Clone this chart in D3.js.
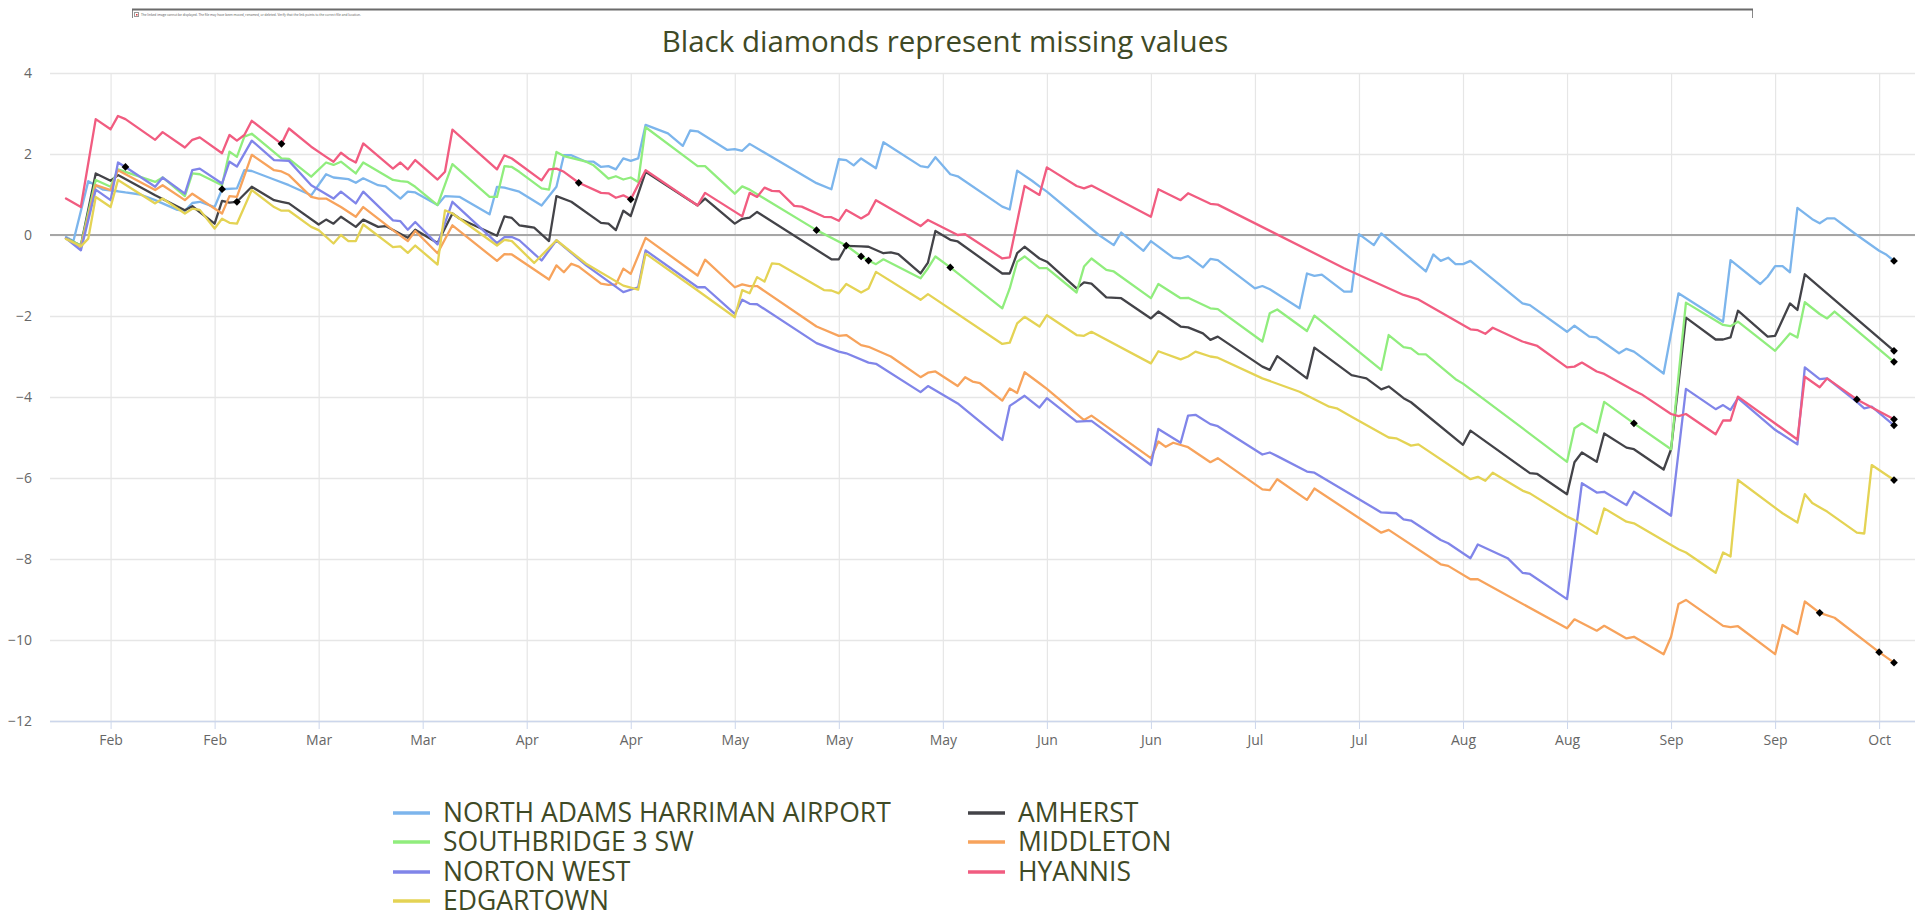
<!DOCTYPE html>
<html>
<head>
<meta charset="utf-8">
<script src="https://cdnjs.cloudflare.com/ajax/libs/d3/7.8.5/d3.min.js"></script>
<style>
  body { margin: 0; background: #fff; }
  svg { display: block; }
  text { font-family: "Open Sans", sans-serif; }
</style>
</head>
<body>
<div id="chart"></div>
<script>
// days are counted from Feb 1; each point is [day, departure in inches]
const firstDay = Date.UTC(2021, 1, 1);
const lastDay = Date.UTC(2021, 9, 5);
const tickDates = ["2021-02-07", "2021-02-21", "2021-03-07", "2021-03-21", "2021-04-04", "2021-04-18",
    "2021-05-02", "2021-05-16", "2021-05-30", "2021-06-13", "2021-06-27", "2021-07-11", "2021-07-25",
    "2021-08-08", "2021-08-22", "2021-09-05", "2021-09-19", "2021-10-03"];
const yTicks = [-12, -10, -8, -6, -4, -2, 0, 2, 4];

const stationNames = ["NORTH ADAMS HARRIMAN AIRPORT", "AMHERST", "SOUTHBRIDGE 3 SW", "MIDDLETON",
    "NORTON WEST", "HYANNIS", "EDGARTOWN"];
const stationColors = ["#7cb5ec", "#434348", "#90ed7d", "#f7a35c", "#8085e9", "#f15c80", "#e4d354"];

const northAdams = [[0,-0.05],[1,-0.15],[3,1.33],[5,1.12],[7,1.08],[8,1.05],[10,1.0],[12,0.86],[15,0.62],[16,0.6],[17,0.79],[18,0.82],[20,0.69],[21,1.13],[23,1.15],[24,1.6],[25,1.58],[28,1.37],[30,1.23],[33,0.98],[35,1.5],[36,1.42],[38,1.38],[39,1.29],[40,1.4],[42,1.23],[43,1.2],[45,0.9],[46,1.07],[47,1.05],[50,0.74],[51,0.96],[53,0.94],[57,0.51],[58,1.19],[59,1.17],[60,1.12],[61,1.07],[64,0.73],[66,1.19],[67,1.97],[68,1.97],[70,1.81],[71,1.81],[72,1.68],[73,1.7],[74,1.62],[75,1.89],[76,1.83],[77,1.89],[78,2.72],[81,2.51],[83,2.2],[84,2.58],[85,2.56],[89,2.1],[90,2.12],[91,2.08],[92,2.25],[101,1.28],[103,1.13],[104,1.87],[105,1.85],[106,1.72],[107,1.89],[109,1.65],[110,2.29],[115,1.7],[116,1.67],[117,1.92],[119,1.5],[120,1.45],[126,0.7],[127,0.63],[128,1.59],[130,1.34],[131,1.2],[132,1.07],[139,0],[141,-0.25],[142,0.06],[145,-0.39],[146,-0.15],[149,-0.56],[150,-0.58],[151,-0.52],[153,-0.8],[154,-0.59],[155,-0.62],[160,-1.32],[161,-1.26],[162,-1.34],[166,-1.81],[167,-0.95],[168,-1.01],[169,-0.98],[172,-1.4],[173,-1.4],[174,0.02],[176,-0.25],[177,0.04],[183,-0.9],[184,-0.48],[185,-0.64],[186,-0.56],[187,-0.72],[188,-0.72],[189,-0.64],[196,-1.69],[197,-1.73],[202,-2.39],[203,-2.24],[205,-2.51],[206,-2.53],[209,-2.92],[210,-2.81],[211,-2.88],[215,-3.42],[217,-1.44],[223,-2.14],[224,-0.62],[228,-1.21],[229,-1.03],[230,-0.77],[231,-0.77],[232,-0.92],[233,0.67],[235,0.39],[236,0.29],[237,0.41],[238,0.41],[241,0.0],[244,-0.39],[245,-0.49],[246,-0.64]];

const amherst = [[0,-0.08],[2,-0.26],[4,1.52],[6,1.34],[7,1.48],[12,0.98],[16,0.61],[17,0.71],[20,0.28],[21,0.84],[22,0.8],[23,0.82],[25,1.19],[28,0.86],[29,0.82],[30,0.78],[34,0.26],[35,0.38],[36,0.28],[37,0.45],[39,0.2],[40,0.38],[42,0.2],[43,0.22],[46,-0.07],[47,0.13],[50,-0.2],[52,0.53],[53,0.4],[58,-0.02],[59,0.46],[60,0.42],[61,0.24],[62,0.21],[63,0.18],[65,-0.15],[66,0.96],[68,0.82],[72,0.3],[73,0.28],[74,0.12],[75,0.6],[76,0.47],[78,1.56],[85,0.73],[86,0.9],[90,0.28],[91,0.4],[92,0.43],[93,0.57],[103,-0.6],[104,-0.6],[105,-0.27],[107,-0.28],[108,-0.29],[110,-0.45],[111,-0.43],[112,-0.47],[115,-0.95],[116,-0.68],[117,0.1],[119,-0.12],[120,-0.16],[126,-0.95],[127,-0.95],[128,-0.45],[129,-0.29],[131,-0.58],[132,-0.66],[136,-1.32],[137,-1.17],[138,-1.2],[140,-1.54],[142,-1.56],[146,-2.06],[147,-1.89],[150,-2.26],[151,-2.28],[153,-2.43],[154,-2.59],[155,-2.51],[161,-3.25],[162,-3.33],[163,-2.99],[167,-3.54],[168,-2.78],[173,-3.46],[174,-3.5],[175,-3.54],[177,-3.81],[178,-3.74],[180,-4.03],[181,-4.13],[188,-5.18],[189,-4.83],[197,-5.88],[198,-5.9],[202,-6.4],[203,-5.61],[204,-5.37],[206,-5.6],[207,-4.9],[210,-5.25],[211,-5.29],[215,-5.79],[216,-5.29],[218,-2.04],[222,-2.58],[223,-2.58],[224,-2.53],[225,-1.87],[229,-2.51],[230,-2.49],[232,-1.69],[233,-1.85],[234,-0.97],[238,-1.6],[246,-2.86]];

const southbridge = [[0,-0.08],[2,-0.26],[4,1.36],[6,1.19],[7,1.62],[12,1.31],[13,1.42],[16,0.96],[17,1.52],[18,1.5],[21,1.23],[22,2.06],[23,1.93],[24,2.43],[25,2.5],[29,1.89],[30,1.88],[33,1.44],[35,1.79],[36,1.73],[37,1.81],[39,1.52],[40,1.79],[44,1.36],[45,1.33],[46,1.31],[47,1.19],[50,0.74],[52,1.75],[57,0.94],[58,0.94],[59,1.7],[60,1.68],[61,1.56],[64,1.15],[65,1.12],[66,2.05],[67,1.95],[70,1.81],[71,1.72],[72,1.56],[73,1.39],[74,1.45],[75,1.37],[76,1.42],[77,1.31],[78,2.66],[85,1.7],[86,1.7],[90,1.02],[91,1.2],[92,1.12],[101,0.12],[105,-0.26],[107,-0.53],[108,-0.63],[109,-0.72],[110,-0.6],[115,-1.07],[116,-0.82],[117,-0.53],[119,-0.8],[126,-1.81],[127,-1.32],[128,-0.66],[129,-0.53],[131,-0.82],[132,-0.82],[136,-1.42],[137,-0.78],[138,-0.58],[140,-0.86],[141,-0.9],[146,-1.56],[147,-1.21],[150,-1.56],[151,-1.55],[154,-1.81],[155,-1.83],[161,-2.63],[162,-1.93],[163,-1.84],[167,-2.37],[168,-1.99],[177,-3.33],[178,-2.47],[180,-2.77],[181,-2.8],[182,-2.94],[183,-2.95],[187,-3.56],[188,-3.67],[196,-4.77],[202,-5.6],[203,-4.77],[204,-4.65],[206,-4.88],[207,-4.12],[211,-4.65],[216,-5.29],[218,-1.67],[223,-2.22],[224,-2.25],[225,-2.14],[230,-2.86],[232,-2.43],[233,-2.53],[234,-1.66],[236,-1.95],[237,-2.06],[238,-1.89],[246,-3.13]];

const middleton = [[0,-0.08],[2,-0.3],[4,1.23],[6,1.11],[7,1.6],[12,1.11],[13,1.23],[16,0.86],[17,1.02],[21,0.53],[22,0.96],[23,0.94],[25,1.98],[28,1.6],[29,1.57],[30,1.48],[33,0.94],[34,0.9],[35,0.9],[37,0.69],[39,0.45],[40,0.69],[44,0.12],[46,-0.15],[47,0.1],[50,-0.45],[52,0.24],[58,-0.64],[59,-0.47],[60,-0.48],[65,-1.1],[66,-0.75],[67,-0.92],[68,-0.71],[69,-0.78],[72,-1.2],[73,-1.23],[74,-1.22],[75,-0.83],[76,-0.96],[78,-0.07],[85,-1.0],[86,-0.61],[90,-1.29],[91,-1.22],[92,-1.26],[93,-1.26],[101,-2.26],[104,-2.49],[105,-2.47],[107,-2.72],[108,-2.76],[109,-2.84],[111,-3.0],[115,-3.51],[116,-3.4],[117,-3.37],[120,-3.73],[121,-3.51],[122,-3.62],[123,-3.66],[126,-4.09],[127,-3.79],[128,-3.9],[129,-3.39],[131,-3.66],[132,-3.8],[137,-4.57],[138,-4.46],[146,-5.51],[147,-5.1],[148,-5.23],[149,-5.13],[151,-5.24],[154,-5.61],[155,-5.51],[161,-6.28],[162,-6.3],[163,-6.03],[167,-6.54],[168,-6.26],[177,-7.35],[178,-7.28],[185,-8.13],[186,-8.17],[189,-8.5],[190,-8.5],[202,-9.71],[203,-9.49],[206,-9.77],[207,-9.65],[210,-9.96],[211,-9.92],[215,-10.35],[216,-9.92],[217,-9.11],[218,-9.01],[223,-9.65],[224,-9.68],[225,-9.66],[230,-10.35],[231,-9.63],[233,-9.85],[234,-9.05],[236,-9.33],[238,-9.45],[244,-10.3],[246,-10.56]];

const nortonWest = [[0,-0.08],[2,-0.38],[4,1.12],[6,0.86],[7,1.79],[8,1.68],[12,1.19],[13,1.42],[16,1.02],[17,1.6],[18,1.64],[21,1.27],[22,1.81],[23,1.69],[25,2.33],[28,1.85],[30,1.83],[33,1.23],[36,0.9],[37,1.07],[39,0.78],[40,1.07],[44,0.36],[45,0.34],[46,0.13],[47,0.32],[50,-0.23],[52,0.82],[58,-0.2],[59,-0.05],[60,-0.05],[61,-0.13],[64,-0.63],[66,-0.13],[70,-0.75],[75,-1.41],[77,-1.29],[78,-0.38],[85,-1.29],[86,-1.29],[90,-1.95],[91,-1.6],[92,-1.7],[93,-1.71],[101,-2.67],[104,-2.88],[105,-2.92],[108,-3.15],[109,-3.18],[115,-3.88],[116,-3.73],[120,-4.16],[123,-4.61],[126,-5.06],[127,-4.22],[129,-3.97],[131,-4.26],[132,-4.03],[136,-4.61],[138,-4.59],[146,-5.68],[147,-4.79],[150,-5.13],[151,-4.46],[152,-4.44],[154,-4.67],[155,-4.72],[161,-5.42],[162,-5.37],[163,-5.46],[167,-5.84],[168,-5.87],[177,-6.85],[179,-6.87],[180,-7.02],[181,-7.05],[185,-7.53],[186,-7.61],[189,-7.98],[190,-7.64],[194,-7.98],[196,-8.34],[197,-8.37],[202,-8.99],[204,-6.13],[206,-6.36],[207,-6.34],[210,-6.67],[211,-6.34],[216,-6.93],[218,-3.8],[222,-4.3],[223,-4.2],[224,-4.32],[225,-4.03],[230,-4.81],[233,-5.17],[234,-3.27],[236,-3.56],[237,-3.54],[241,-4.12],[242,-4.28],[243,-4.24],[246,-4.7]];

const hyannis = [[0,0.9],[2,0.69],[4,2.86],[6,2.61],[7,2.94],[8,2.86],[12,2.35],[13,2.54],[16,2.16],[17,2.35],[18,2.41],[21,2.02],[22,2.47],[23,2.33],[24,2.47],[25,2.82],[29,2.25],[30,2.63],[33,2.18],[35,1.93],[36,1.81],[37,2.03],[38,1.89],[39,1.79],[40,2.26],[44,1.64],[45,1.79],[46,1.62],[47,1.85],[50,1.37],[51,1.56],[52,2.6],[58,1.62],[59,1.97],[60,1.89],[64,1.35],[65,1.62],[66,1.64],[67,1.56],[69,1.29],[72,1.04],[73,1.03],[74,0.92],[75,0.98],[76,0.88],[78,1.6],[85,0.73],[86,1.04],[91,0.46],[92,1.04],[93,0.94],[94,1.17],[95,1.09],[96,1.08],[98,0.72],[99,0.7],[102,0.45],[103,0.44],[104,0.35],[105,0.62],[107,0.41],[108,0.52],[109,0.86],[115,0.22],[116,0.37],[120,0.0],[121,0.02],[126,-0.58],[127,-0.55],[129,1.21],[131,0.99],[132,1.67],[136,1.21],[137,1.15],[138,1.22],[146,0.45],[147,1.13],[150,0.86],[151,1.03],[154,0.77],[155,0.75],[172,-0.82],[180,-1.48],[182,-1.59],[189,-2.33],[190,-2.35],[191,-2.44],[192,-2.29],[196,-2.63],[198,-2.74],[202,-3.27],[203,-3.25],[204,-3.15],[206,-3.37],[207,-3.43],[211,-3.84],[212,-3.93],[216,-4.42],[217,-4.47],[218,-4.42],[222,-4.92],[223,-4.58],[224,-4.58],[225,-3.99],[233,-5.05],[234,-3.5],[236,-3.76],[237,-3.54],[241,-4.06],[246,-4.55]];

const edgartown = [[0,-0.1],[2,-0.28],[3,-0.09],[4,0.94],[6,0.69],[7,1.36],[12,0.78],[13,0.9],[16,0.53],[17,0.65],[18,0.62],[20,0.16],[21,0.4],[22,0.3],[23,0.28],[25,1.11],[28,0.69],[29,0.6],[30,0.6],[33,0.2],[34,0.12],[36,-0.21],[37,0.0],[38,-0.15],[39,-0.15],[40,0.26],[44,-0.3],[45,-0.28],[46,-0.44],[47,-0.26],[50,-0.73],[51,0.61],[52,0.53],[58,-0.26],[59,-0.12],[60,-0.15],[63,-0.69],[66,-0.13],[70,-0.71],[75,-1.25],[77,-1.35],[78,-0.46],[85,-1.37],[90,-2.03],[91,-1.36],[92,-1.44],[93,-1.04],[94,-1.15],[95,-0.7],[96,-0.72],[102,-1.36],[103,-1.37],[104,-1.44],[105,-1.21],[107,-1.42],[108,-1.32],[109,-0.91],[115,-1.6],[116,-1.46],[126,-2.69],[127,-2.66],[128,-2.18],[129,-2.02],[131,-2.26],[132,-1.98],[136,-2.47],[137,-2.49],[138,-2.39],[146,-3.17],[147,-2.87],[150,-3.07],[151,-3.0],[152,-2.88],[154,-3.0],[155,-3.03],[161,-3.54],[166,-3.87],[170,-4.24],[171,-4.28],[173,-4.49],[178,-5.0],[179,-5.02],[181,-5.2],[182,-5.17],[189,-6.03],[190,-5.97],[191,-6.07],[192,-5.87],[196,-6.31],[197,-6.38],[202,-6.95],[203,-7.04],[206,-7.38],[207,-6.75],[210,-7.08],[211,-7.12],[217,-7.76],[218,-7.84],[222,-8.34],[223,-7.84],[224,-7.94],[225,-6.05],[231,-6.87],[233,-7.1],[234,-6.4],[235,-6.62],[237,-6.83],[241,-7.35],[242,-7.37],[243,-5.68],[246,-6.05]];

// days on which a station reported nothing
const northAdamsMissing = [21, 246];
const amherstMissing = [23, 246];
const southbridgeMissing = [101, 105, 107, 108, 119, 211, 246];
const middletonMissing = [236, 244, 246];
const nortonWestMissing = [8, 246];
const hyannisMissing = [29, 69, 76, 241, 246];
const edgartownMissing = [246];

const stationPoints = [northAdams, amherst, southbridge, middleton, nortonWest, hyannis, edgartown];
const stationMissing = [northAdamsMissing, amherstMissing, southbridgeMissing, middletonMissing,
    nortonWestMissing, hyannisMissing, edgartownMissing];

const series = stationNames.map((name, i) => ({
    name: name,
    color: stationColors[i],
    values: stationPoints[i].map(p => ({date: d3.utcDay.offset(new Date(firstDay), p[0]), day: p[0], v: p[1]})),
    missing: stationMissing[i]
}));

const width = 1915, height = 913;
const plot = {left: 50, right: 1915, top: 73, bottom: 721};

const svg = d3.select("#chart").append("svg")
    .attr("width", width)
    .attr("height", height)
    .style("background", "#fff");

const x = d3.scaleUtc()
    .domain([new Date(firstDay), new Date(lastDay)])
    .range([66, 1894]);
const y = d3.scaleLinear()
    .domain([-12, 4])
    .range([plot.bottom, plot.top]);

// broken linked image box at the very top
const frame = svg.append("g");
frame.append("path")
    .attr("d", "M132.5,18 V9.5 H1752.5 V18")
    .attr("fill", "none")
    .attr("stroke", "#888")
    .attr("stroke-width", 1);
frame.append("line")
    .attr("x1", 132).attr("x2", 1753)
    .attr("y1", 9.5).attr("y2", 9.5)
    .attr("stroke", "#6b6b6b")
    .attr("stroke-width", 2);
frame.append("rect")
    .attr("x", 134.5).attr("y", 12.5).attr("width", 4).attr("height", 4)
    .attr("fill", "#fff").attr("stroke", "#999").attr("stroke-width", 1);
frame.append("rect")
    .attr("x", 136).attr("y", 14).attr("width", 1.5).attr("height", 1.5)
    .attr("fill", "#d33");
frame.append("text")
    .attr("x", 141).attr("y", 15.6)
    .attr("font-size", 3.2)
    .attr("fill", "#555")
    .text("The linked image cannot be displayed.  The file may have been moved, renamed, or deleted. Verify that the link points to the correct file and location.");

svg.append("text")
    .attr("x", 945)
    .attr("y", 52)
    .attr("text-anchor", "middle")
    .attr("font-size", 29.5)
    .attr("fill", "#3f4a26")
    .text("Black diamonds represent missing values");

// horizontal grid and y labels
const yAxis = svg.append("g")
    .attr("transform", "translate(" + plot.left + ",0)")
    .call(d3.axisLeft(y).tickValues(yTicks).tickSize(-(plot.right - plot.left)).tickPadding(18).tickFormat(d3.format("d")));
yAxis.select(".domain").remove();
yAxis.selectAll("line").attr("stroke", "#e6e6e6").attr("stroke-width", 1.5);
yAxis.selectAll("text").attr("font-size", 14).attr("fill", "#666").attr("font-family", "Open Sans");

// vertical grid
const xGrid = svg.append("g")
    .attr("transform", "translate(0," + plot.bottom + ")")
    .call(d3.axisBottom(x).tickValues(tickDates.map(d => new Date(d))).tickSize(-(plot.bottom - plot.top)).tickFormat(""));
xGrid.select(".domain").remove();
xGrid.selectAll("line").attr("stroke", "#e6e6e6").attr("stroke-width", 1.2);

// zero line
svg.append("line")
    .attr("x1", plot.left).attr("x2", plot.right)
    .attr("y1", y(0)).attr("y2", y(0))
    .attr("stroke", "#a6a6a6")
    .attr("stroke-width", 2);

// x axis with month labels
const xAxis = svg.append("g")
    .attr("transform", "translate(0," + plot.bottom + ")")
    .call(d3.axisBottom(x).tickValues(tickDates.map(d => new Date(d))).tickSize(8).tickPadding(6).tickFormat(d3.utcFormat("%b")));
xAxis.select(".domain")
    .attr("d", "M" + plot.left + ",0.5H" + plot.right)
    .attr("stroke", "#ccd6eb")
    .attr("stroke-width", 1.5);
xAxis.selectAll("line").attr("stroke", "#ccd6eb");
xAxis.selectAll("text").attr("font-size", 14).attr("fill", "#666").attr("font-family", "Open Sans");

const line = d3.line()
    .x(d => x(d.date))
    .y(d => y(d.v));

const lines = svg.append("g");
series.forEach(function (s) {
    lines.append("path")
        .datum(s.values)
        .attr("fill", "none")
        .attr("stroke", s.color)
        .attr("stroke-width", 2.3)
        .attr("stroke-linejoin", "round")
        .attr("stroke-linecap", "round")
        .attr("d", line);
});

const diamond = d3.symbol().type(d3.symbolSquare).size(30);
series.forEach(function (s) {
    lines.selectAll(null)
        .data(s.values.filter(d => s.missing.includes(d.day)))
        .enter().append("path")
        .attr("d", diamond)
        .attr("fill", "#000")
        .attr("transform", d => "translate(" + x(d.date) + "," + y(d.v) + ") rotate(45)");
});

// legend, two columns filled row by row
const legend = svg.append("g");
const colX = [393, 968];
const rowY = [813, 842, 872, 901];
series.forEach(function (s, i) {
    const gx = colX[i % 2], gy = rowY[Math.floor(i / 2)];
    legend.append("line")
        .attr("x1", gx).attr("x2", gx + 37)
        .attr("y1", gy).attr("y2", gy)
        .attr("stroke", s.color)
        .attr("stroke-width", 3.5);
    legend.append("text")
        .attr("x", gx + 50)
        .attr("y", gy)
        .attr("dy", "0.35em")
        .attr("font-size", 26.5)
        .attr("fill", "#3f4a26")
        .text(s.name);
});
</script>
</body>
</html>
